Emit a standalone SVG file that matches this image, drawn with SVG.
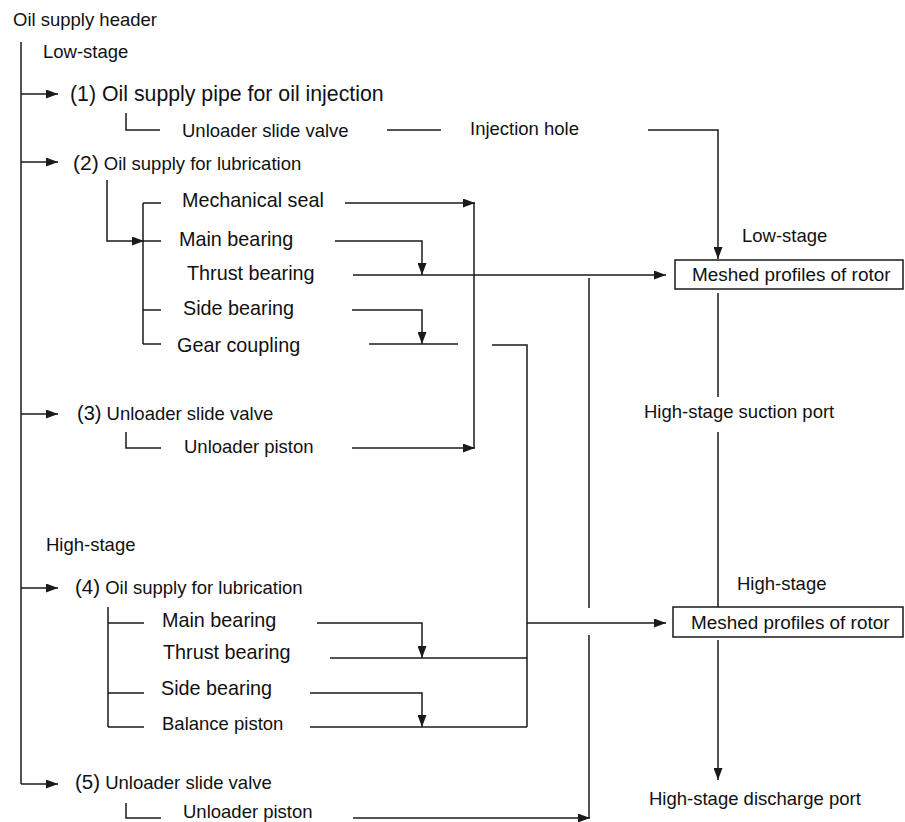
<svg xmlns="http://www.w3.org/2000/svg" width="905" height="822" viewBox="0 0 905 822">
<defs>
<marker id="ah" viewBox="0 0 12 9" refX="12" refY="4.5" markerWidth="12" markerHeight="9" orient="auto" markerUnits="userSpaceOnUse"><path d="M0,0 L12,4.5 L0,9 z" fill="#1a1a1a"/></marker>
<style>
text{font-family:"Liberation Sans",Arial,sans-serif;fill:#111;font-size:18.5px}
.b{font-size:19.8px}
.n{font-size:21px}
.big{font-size:21.3px}
.c path{fill:none;stroke:#1a1a1a;stroke-width:1.5}
.a{marker-end:url(#ah)}
rect{fill:#fff;stroke:#1a1a1a;stroke-width:1.5}
</style>
</defs>
<rect x="0" y="0" width="905" height="822" style="stroke:none"/>
<g class="c" id="connectors">
<path d="M21,42 V784"/>
<path class="a" d="M21,94 H58"/>
<path class="a" d="M21,162 H58"/>
<path class="a" d="M21,414 H58"/>
<path class="a" d="M21,588 H58"/>
<path class="a" d="M21,784 H58"/>
<path d="M126,113 V130 H160"/>
<path d="M387,130 H441"/>
<path class="a" d="M648,130 H718 V259"/>
<path class="a" d="M107,180 V241 H144"/>
<path d="M143,203 V344"/>
<path d="M143,203 H161 M143,241 H161 M143,310 H161 M143,344 H161"/>
<path class="a" d="M345,203 H475"/>
<path d="M126,432 V448 H161"/>
<path class="a" d="M352,448 H475"/>
<path d="M474,203 V448"/>
<path class="a" d="M335,241 H422 V275"/>
<path class="a" d="M353,275 H666"/>
<path class="a" d="M352,310 H422 V344"/>
<path d="M369,344 H458"/>
<path d="M492,345 H527 V727"/>
<path class="a" d="M527,623 H666"/>
<path d="M108,607 V727 M108,623 H144 M108,693 H144 M108,727 H144"/>
<path class="a" d="M317,623 H422 V658"/>
<path d="M330,658 H527"/>
<path class="a" d="M310,693 H422 V727"/>
<path d="M310,727 H527"/>
<path d="M126,803 V818 H161"/>
<path class="a" d="M353,818 H590"/>
<path d="M589,818 V635 M589,608 V278"/>
<path d="M718,293 V397 M718,432 V607"/>
<path class="a" d="M718,640 V780"/>
</g>
<g id="header"><text x="13" y="26">Oil supply header</text></g>
<g id="low-stage-label"><text x="43" y="58">Low-stage</text></g>
<g id="n1"><text class="big" x="70" y="101">(1) Oil supply pipe for oil injection</text></g>
<g id="n1-usv"><text x="182" y="137">Unloader slide valve</text></g>
<g id="injection-hole"><text x="470" y="135">Injection hole</text></g>
<g id="n2"><text x="73" y="170"><tspan class="n">(2)</tspan> Oil supply for lubrication</text></g>
<g id="mech-seal"><text class="b" x="182" y="207">Mechanical seal</text></g>
<g id="main-bearing-l"><text class="b" x="179" y="246">Main bearing</text></g>
<g id="thrust-bearing-l"><text class="b" x="187" y="280">Thrust bearing</text></g>
<g id="side-bearing-l"><text class="b" x="183" y="315">Side bearing</text></g>
<g id="gear-coupling"><text class="b" x="177" y="352">Gear coupling</text></g>
<g id="n3"><text x="77" y="420"><tspan class="n" style="font-size:20px">(3)</tspan> Unloader slide valve</text></g>
<g id="unloader-piston-l"><text x="184" y="453">Unloader piston</text></g>
<g id="low-stage-r"><text x="742" y="242">Low-stage</text></g>
<g id="rotor-low"><rect x="675" y="260" width="228" height="29"/><text x="692" y="281" style="font-size:18.9px">Meshed profiles of rotor</text></g>
<g id="hs-suction"><text x="644" y="418">High-stage suction port</text></g>
<g id="high-stage-label"><text x="46" y="551">High-stage</text></g>
<g id="n4"><text x="75" y="594"><tspan class="n" style="font-size:20.5px">(4)</tspan> Oil supply for lubrication</text></g>
<g id="high-stage-r"><text x="737" y="590">High-stage</text></g>
<g id="rotor-high"><rect x="673" y="607" width="230" height="30"/><text x="691" y="629" style="font-size:18.9px">Meshed profiles of rotor</text></g>
<g id="main-bearing-h"><text class="b" x="162" y="627">Main bearing</text></g>
<g id="thrust-bearing-h"><text class="b" x="163" y="659">Thrust bearing</text></g>
<g id="side-bearing-h"><text class="b" x="161" y="695">Side bearing</text></g>
<g id="balance-piston"><text x="162" y="730">Balance piston</text></g>
<g id="n5"><text x="75" y="789"><tspan class="n" style="font-size:20.5px">(5)</tspan> Unloader slide valve</text></g>
<g id="unloader-piston-h"><text x="183" y="818">Unloader piston</text></g>
<g id="hs-discharge"><text x="649" y="805">High-stage discharge port</text></g>
</svg>
